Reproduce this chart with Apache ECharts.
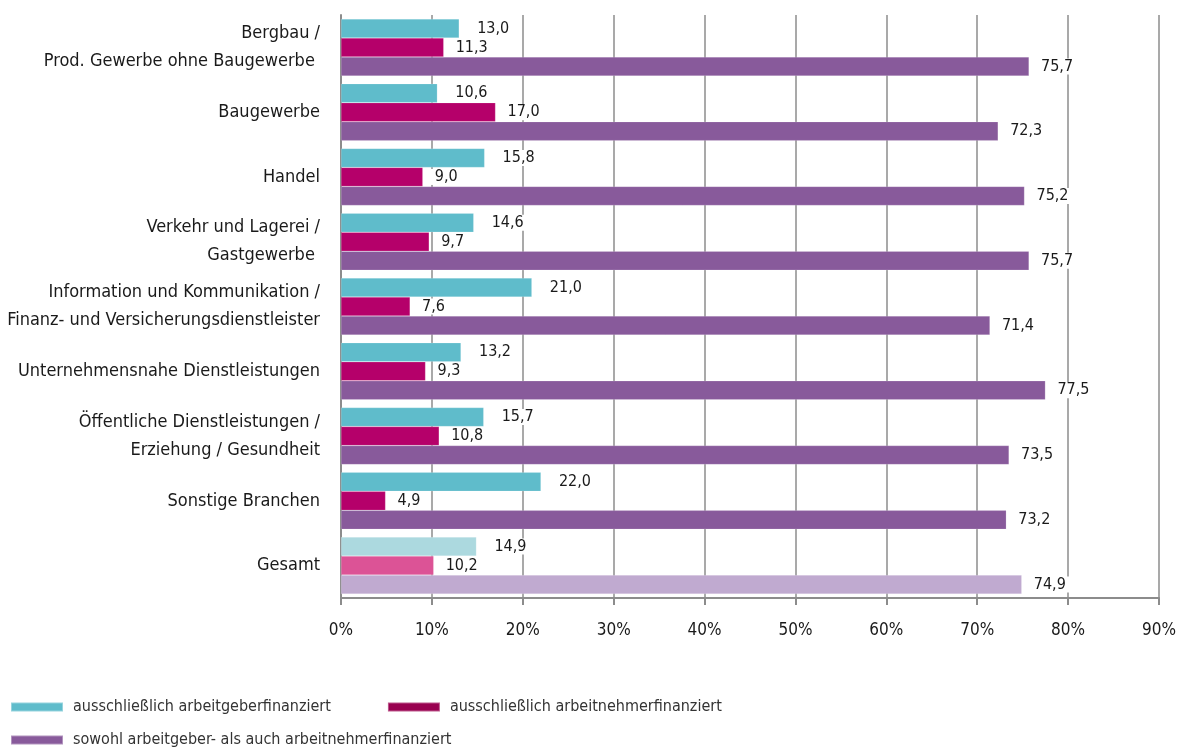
<!DOCTYPE html>
<html><head><meta charset="utf-8">
<script src="https://cdn.jsdelivr.net/npm/echarts@6/dist/echarts.min.js"></script>
<style>html,body{margin:0;padding:0;background:#fff}#c{width:1179px;height:747px}</style>
</head><body><div id="c"></div>
<script>
const categories = [
  'Bergbau /\nProd. Gewerbe ohne Baugewerbe ',
  'Baugewerbe',
  'Handel',
  'Verkehr und Lagerei /\nGastgewerbe ',
  'Information und Kommunikation /\nFinanz- und Versicherungsdienstleister',
  'Unternehmensnahe Dienstleistungen',
  'Öffentliche Dienstleistungen /\nErziehung / Gesundheit',
  'Sonstige Branchen',
  'Gesamt'
];
const seriesNames = [
  'ausschließlich arbeitgeberfinanziert',
  'ausschließlich arbeitnehmerfinanziert',
  'sowohl arbeitgeber- als auch arbeitnehmerfinanziert'
];
const arbeitgeber = [13.0, 10.6, 15.8, 14.6, 21.0, 13.2, 15.7, 22.0, 14.9];
const arbeitnehmer = [11.3, 17.0, 9.0, 9.7, 7.6, 9.3, 10.8, 4.9, 10.2];
const beide = [75.7, 72.3, 75.2, 75.7, 71.4, 77.5, 73.5, 73.2, 74.9];
const xTicks = [0, 10, 20, 30, 40, 50, 60, 70, 80, 90];

const FONT = "'Liberation Sans Narrow', 'DejaVu Sans Condensed', 'Arial Narrow', sans-serif";
const colors = ['#5fbccb', '#b5006a', '#885a9b'];
const totalColors = ['#acd9df', '#dc5396', '#c0aad0'];
const legendColors = ['#5fbccb', '#990050', '#885a9b'];
const labelDist = [14, 8, 8];

const fmt = v => v.toFixed(1).replace('.', ',');

function mkSeries(idx, values) {
  return {
    name: seriesNames[idx],
    type: 'bar',
    barGap: '0%',
    barCategoryGap: '12%',
    itemStyle: { color: colors[idx], borderColor: 'rgba(255,255,255,0.35)', borderWidth: 0.5 },
    data: values.map((v, i) => i === values.length - 1
      ? { value: v, itemStyle: { color: totalColors[idx] } }
      : v),
    label: {
      show: true,
      position: 'right',
      distance: labelDist[idx],
      formatter: p => fmt(p.value),
      fontFamily: FONT,
      fontSize: 16,
      color: '#1a1a1a',
      backgroundColor: '#ffffff',
      padding: [0, 4]
    }
  };
}

const chart = echarts.init(document.getElementById('c'));
chart.setOption({
  animation: false,
  backgroundColor: '#ffffff',
  grid: { left: 341, right: 20, top: 15, bottom: 149, containLabel: false, outerBoundsMode: 'none' },
  xAxis: {
    type: 'value',
    min: xTicks[0],
    max: xTicks[xTicks.length - 1],
    interval: 10,
    axisLine: { show: true, lineStyle: { color: '#8c8c8c', width: 2 } },
    axisTick: { show: true, length: 7, lineStyle: { color: '#8c8c8c', width: 2 } },
    splitLine: { show: true, lineStyle: { color: '#8c8c8c', width: 1.5 } },
    axisLabel: {
      formatter: '{value}%',
      fontFamily: FONT, fontSize: 17, color: '#1a1a1a', margin: 24
    }
  },
  yAxis: {
    type: 'category',
    inverse: true,
    data: categories,
    axisLine: { show: true, lineStyle: { color: '#8c8c8c', width: 2 } },
    axisTick: { show: false },
    axisLabel: {
      fontFamily: FONT, fontSize: 18, color: '#1a1a1a', margin: 21,
      lineHeight: 28, align: 'right'
    }
  },
  legend: [
    {
      left: 10, top: 699, orient: 'horizontal', padding: 0,
      itemWidth: 52, itemHeight: 9, itemGap: 56,
      icon: 'rect',
      data: [
        { name: seriesNames[0], itemStyle: { color: legendColors[0] } },
        { name: seriesNames[1], itemStyle: { color: legendColors[1] } }
      ],
      textStyle: { fontFamily: FONT, fontSize: 16, color: '#333333', padding: [0, 0, 0, 5] }
    },
    {
      left: 10, top: 732, orient: 'horizontal', padding: 0,
      itemWidth: 52, itemHeight: 9,
      icon: 'rect',
      data: [{ name: seriesNames[2], itemStyle: { color: legendColors[2] } }],
      textStyle: { fontFamily: FONT, fontSize: 16, color: '#333333', padding: [0, 0, 0, 5] }
    }
  ],
  series: [
    mkSeries(0, arbeitgeber),
    mkSeries(1, arbeitnehmer),
    mkSeries(2, beide)
  ]
});
</script>
</body></html>
